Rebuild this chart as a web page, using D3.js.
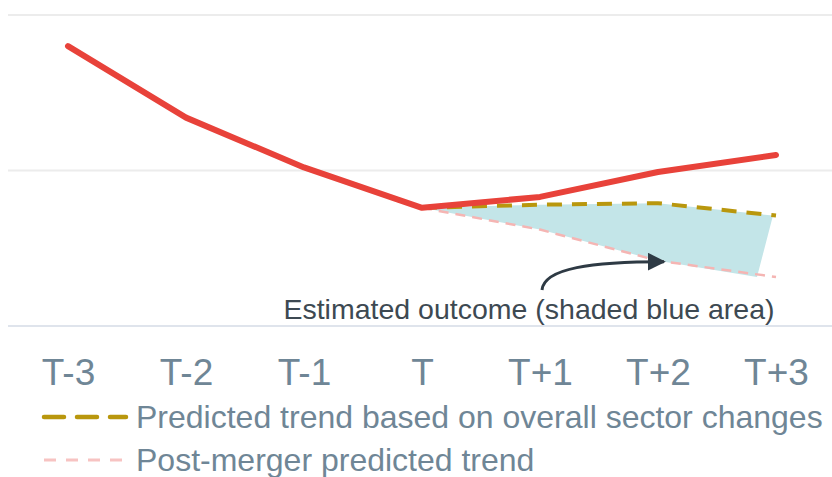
<!DOCTYPE html>
<html>
<head>
<meta charset="utf-8">
<script src="https://cdn.jsdelivr.net/npm/d3@7"></script>
<style>
  body { margin: 0; background: #fff; }
  svg { display: block; font-family: "Liberation Sans", Arial, sans-serif; }
</style>
</head>
<body>
<svg width="832" height="477"></svg>
<script>
// categories and series
var periods = ["T-3", "T-2", "T-1", "T", "T+1", "T+2", "T+3"];
var actual = [1.80, 1.34, 1.02, 0.76, 0.83, 0.99, 1.10];
var sectorPeriods = ["T", "T+1", "T+2", "T+3"];
var sectorTrend = [0.76, 0.78, 0.79, 0.71];
var mergerTrend = [0.76, 0.62, 0.42, 0.315];
var gridValues = [0, 1, 2];
var legendLabels = ["Predicted trend based on overall sector changes", "Post-merger predicted trend"];
var annotation = "Estimated outcome (shaded blue area)";

var svg = d3.select("svg");

var x = d3.scalePoint().domain(periods).range([68, 776]),
    y = d3.scaleLinear().domain([0, 2]).range([326, 15]);

//grid lines
svg.append("g")
  .selectAll("line")
  .data(gridValues)
  .enter().append("line")
    .attr("x1", 8)
    .attr("x2", 832)
    .attr("y1", function(d) { return y(d); })
    .attr("y2", function(d) { return y(d); })
    .attr("stroke", function(d) { return d === 0 ? "#dfe4ec" : "#ececec"; })
    .attr("stroke-width", 2);

//x axis labels
var xAxis = d3.axisBottom(x).tickSize(0).tickPadding(0);
var ax = svg.append("g")
    .attr("transform", "translate(0," + y(0) + ")")
    .call(xAxis);
ax.select(".domain").remove();
ax.selectAll("text")
    .attr("dy", 0)
    .attr("y", 59)
    .attr("fill", "#6f8696")
    .style("font-size", "37px")
    .style("font-family", "Liberation Sans, Arial, sans-serif");

var future = sectorPeriods.map(function(p, i) {
  return {p: p, top: sectorTrend[i], bottom: mergerTrend[i], last: i === sectorPeriods.length - 1};
});

//shaded outcome area
var area = d3.area()
    .x1(function(d) { return x(d.p) - (d.last ? 3 : 0); })
    .x0(function(d) { return x(d.p) - (d.last ? 19 : 0); })
    .y1(function(d) { return y(d.top); })
    .y0(function(d) { return y(d.bottom); });

svg.append("path")
    .datum(future)
    .attr("d", area)
    .attr("fill", "#c3e5e8");

var line = d3.line()
    .x(function(d) { return x(d[0]); })
    .y(function(d) { return y(d[1]); });

//post-merger trend
svg.append("path")
    .datum(sectorPeriods.map(function(p, i) { return [p, mergerTrend[i]]; }))
    .attr("d", line)
    .attr("fill", "none")
    .attr("stroke", "#f5b5b3")
    .attr("stroke-width", 2.5)
    .attr("stroke-dasharray", "10,7");

//sector trend
svg.append("path")
    .datum(sectorPeriods.map(function(p, i) { return [p, sectorTrend[i]]; }))
    .attr("d", line)
    .attr("fill", "none")
    .attr("stroke", "#b9970d")
    .attr("stroke-width", 4)
    .attr("stroke-dasharray", "15,10");

//actual line
svg.append("path")
    .datum(periods.map(function(p, i) { return [p, actual[i]]; }))
    .attr("d", line)
    .attr("fill", "none")
    .attr("stroke", "#e8423a")
    .attr("stroke-width", 6)
    .attr("stroke-linecap", "round")
    .attr("stroke-linejoin", "round");

//annotation arrow
var defs = svg.append("defs");
defs.append("marker")
    .attr("id", "arrow")
    .attr("viewBox", "0 0 10 10")
    .attr("refX", 9)
    .attr("refY", 5)
    .attr("markerWidth", 18)
    .attr("markerHeight", 18)
    .attr("markerUnits", "userSpaceOnUse")
    .attr("orient", "auto")
  .append("path")
    .attr("d", "M0,0L10,5L0,10Z")
    .attr("fill", "#2e3a44");

var tipX = x("T+2") + 6,
    tipY = y(mergerTrend[2]) + 1,
    tailX = x("T+1") + 2,
    tailY = 290;
svg.append("path")
    .attr("d", "M" + tailX + "," + tailY +
               "C" + (tailX + 2) + "," + (tailY - 22) + " " + (tailX + 50) + "," + (tipY) + " " + tipX + "," + tipY)
    .attr("fill", "none")
    .attr("stroke", "#2e3a44")
    .attr("stroke-width", 3)
    .attr("marker-end", "url(#arrow)");

svg.append("text")
    .attr("x", 529)
    .attr("y", 319)
    .attr("text-anchor", "middle")
    .attr("fill", "#3d4952")
    .style("font-size", "28.5px")
    .text(annotation);

//legend
var legend = svg.append("g");
var swatches = [
  {color: "#b9970d", width: 4.5, dash: "20,13", cap: "round"},
  {color: "#f7c3c2", width: 3, dash: "12,10", cap: "butt"}
];
legendLabels.forEach(function(label, i) {
  var ly = 417 + i * 43;
  legend.append("line")
      .attr("x1", 44).attr("x2", 126)
      .attr("y1", ly).attr("y2", ly)
      .attr("stroke", swatches[i].color)
      .attr("stroke-width", swatches[i].width)
      .attr("stroke-linecap", swatches[i].cap)
      .attr("stroke-dasharray", swatches[i].dash);
  legend.append("text")
      .attr("x", 136)
      .attr("y", ly + 11)
      .attr("fill", "#6f8696")
      .style("font-size", "32px")
      .text(label);
});
</script>
</body>
</html>
